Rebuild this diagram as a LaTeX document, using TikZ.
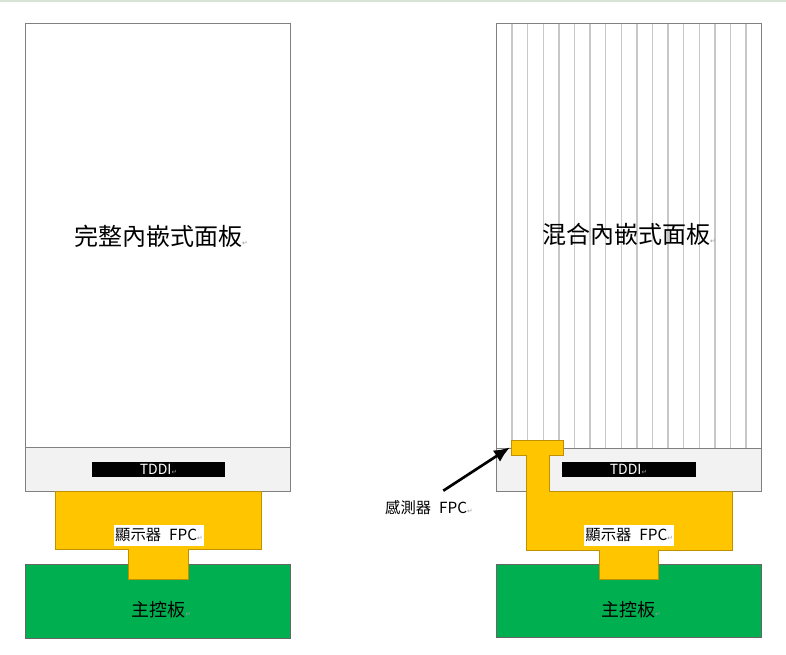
\documentclass[tikz,border=0pt]{standalone}
\usepackage{fontspec}
\usepackage{tikz}
\usetikzlibrary{arrows.meta}
\setmainfont{Noto Sans CJK TC}
\newfontfamily\symfont{DejaVu Sans}
\newcommand{\pmark}{{\symfont\fontsize{5}{5}\selectfont\color{black!40}↵}}
\definecolor{fpcyellow}{RGB}{255,198,0}
\definecolor{fpcedge}{RGB}{191,144,0}
\definecolor{boardgreen}{RGB}{0,176,80}
\definecolor{panelgray}{RGB}{242,242,242}
\definecolor{paneledge}{RGB}{128,128,128}
\tikzset{
  panel/.style={draw=paneledge, line width=0.8pt, fill=white},
  icarea/.style={draw=paneledge, line width=0.8pt, fill=panelgray},
  stripe/.style={draw=black!22, line width=1pt},
  chipbar/.style={fill=black},
  fpc/.style={draw=fpcedge, line width=0.6pt, fill=fpcyellow},
  board/.style={draw=black!60, line width=0.6pt, fill=boardgreen},
  title/.style={font=\fontsize{18}{20}\selectfont},
  chiplabel/.style={text=white, font=\fontsize{10.5}{12}\selectfont},
  fpclabel/.style={fill=white, inner sep=1pt, minimum height=15.5pt, font=\fontsize{11.5}{13}\selectfont},
  boardlabel/.style={font=\fontsize{13.5}{15}\selectfont}
}
\begin{document}
\begin{tikzpicture}[x=0.75pt,y=0.75pt,yscale=-1,xscale=1]
\useasboundingbox (0,0) rectangle (786,654);

%Straight Lines: top rule
\draw [color=green!30!black!15, line width=1pt] (0,1) -- (786,1) ;

%%% left: full in-cell panel
%Shape: Rectangle
\draw [panel] (25.7,23.3) rectangle (290.7,447.7) ;
%Shape: Rectangle
\draw [icarea] (25.7,447.7) rectangle (290.7,491.7) ;
%Shape: Rectangle
\fill [chipbar] (91.7,462.3) rectangle (225,477.3) ;
%Shape: Rectangle
\draw [board] (25.7,564.7) rectangle (290.7,638.3) ;
%Shape: Polygon
\draw [fpc] (55,491.7) -- (261.7,491.7) -- (261.7,549.3) -- (188.3,549.3) -- (188.3,579) -- (128.3,579) -- (128.3,549.3) -- (55,549.3) -- cycle ;

% Text Node
\draw (161,236) node [title] (fulltitle) {完整內嵌式面板\pmark};
% Text Node
\draw (158.5,469.8) node [chiplabel] (fullchip) {TDDI\pmark};
% Text Node
\draw (159,535.5) node [fpclabel] (fullfpc) {顯示器\hspace{6pt}FPC\pmark};
% Text Node
\draw (161.5,610) node [boardlabel] (fullboard) {主控板\pmark};

%%% right: hybrid in-cell panel
%Shape: Rectangle
\draw [panel] (496.5,23.3) rectangle (761.7,448.3) ;
\foreach \i in {1,...,16} {
  \draw [stripe] ({496.5+\i*265.2/17},24) -- ({496.5+\i*265.2/17},447.8) ;
}
\draw [paneledge, line width=0.8pt] (496.5,23.3) rectangle (761.7,448.3) ;
%Shape: Rectangle
\draw [icarea] (496.5,448.3) rectangle (761.7,491.7) ;
%Shape: Rectangle
\fill [chipbar] (562.3,462.3) rectangle (695.7,477.3) ;
%Shape: Rectangle
\draw [board] (496.7,564.3) rectangle (761.7,637.7) ;
%Shape: Polygon
\draw [fpc] (511,440.7) -- (563.3,440.7) -- (563.3,455) -- (549.3,455) -- (549.3,491.7) -- (732.7,491.7) -- (732.7,550) -- (658.3,550) -- (658.3,579.3) -- (599.3,579.3) -- (599.3,550) -- (526,550) -- (526,455) -- (511,455) -- cycle ;

% Text Node
\draw (629,234) node [title] (hybridtitle) {混合內嵌式面板\pmark};
% Text Node
\draw (628.5,469.8) node [chiplabel] (hybridchip) {TDDI\pmark};
% Text Node
\draw (629.2,535.5) node [fpclabel] (hybridfpc) {顯示器\hspace{6pt}FPC\pmark};
% Text Node
\draw (631,610) node [boardlabel] (hybridboard) {主控板\pmark};
% Text Node
\draw (429,508) node [font=\fontsize{11.5}{13}\selectfont] (sensorfpc) {感測器\hspace{6pt}FPC\pmark};

%Straight Lines
\coordinate (arrowtail) at (443.3,490.7) ;
\coordinate (arrowtip) at (510,447.3) ;
\draw [line width=2pt, -{Latex[length=12pt,width=10pt]}] (arrowtail) -- (arrowtip) ;

\end{tikzpicture}
\end{document}
